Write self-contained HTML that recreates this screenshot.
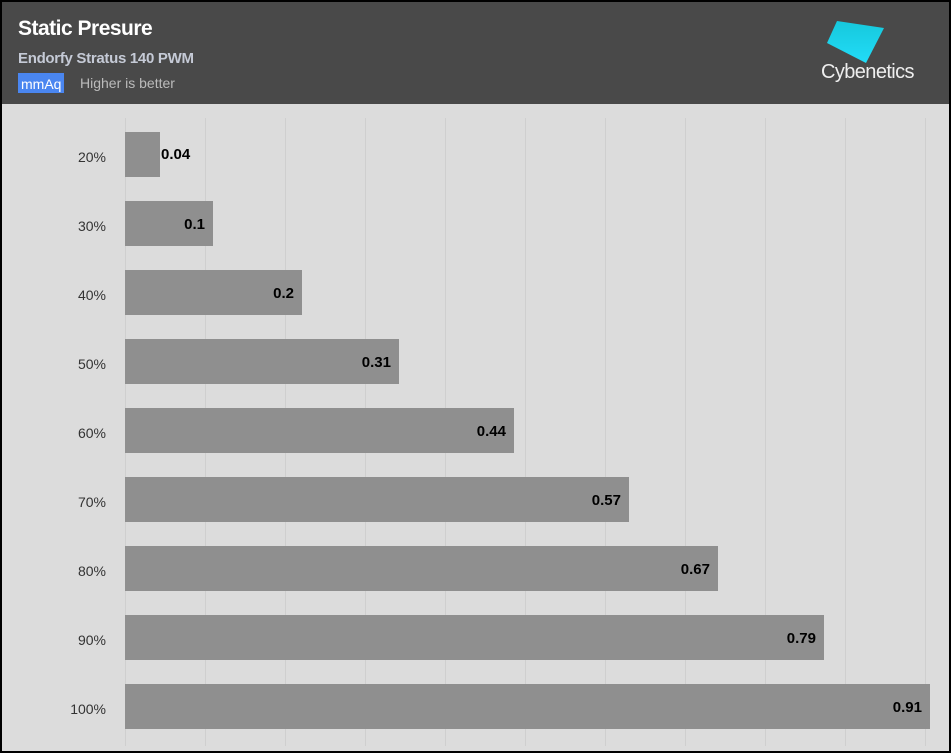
<!DOCTYPE html>
<html><head><style>
body{margin:0;width:951px;height:753px;overflow:hidden;font-family:"Liberation Sans",sans-serif}
.wrap{position:absolute;left:0;top:0;width:947px;height:749px;border:2px solid #000;background:#dcdcdc}
.hdr{position:absolute;left:0;top:0;width:947px;height:102px;background:#494949}
.t{position:absolute;left:16px;top:15px;color:#fff;font-size:21px;font-weight:bold;letter-spacing:-0.5px}
.s{position:absolute;left:16px;top:48px;color:#c5cad6;font-size:15px;font-weight:bold;letter-spacing:-0.3px}
.u{position:absolute;left:16px;top:71px;background:#4a86f0;color:#fff;font-size:14px;padding:1px 3px;height:20px;line-height:20px;box-sizing:border-box}
.h{position:absolute;left:78px;top:73px;color:#bbb;font-size:14px}
.logo{position:absolute;left:819px;top:59px;color:#eee;font-size:20px;letter-spacing:-0.6px}
.g{position:absolute;top:116px;height:628px;width:1px;background:#cfcfcf}
.b{position:absolute;left:123px;height:45px;background:#8f8f8f}
.v{position:absolute;font-size:15px;font-weight:bold;color:#000}
.l{position:absolute;width:80px;text-align:right;left:24px;font-size:14px;color:#333}
</style></head><body><div class="wrap">
<div class="hdr">
<div class="t">Static Presure</div>
<div class="s">Endorfy Stratus 140 PWM</div>
<div class="u">mmAq</div><div class="h">Higher is better</div>
<svg style="position:absolute;left:820px;top:14px" width="70" height="52"><defs><linearGradient id="a" x1="0" y1="0" x2="0" y2="1"><stop offset="0" stop-color="#16c8dc"/><stop offset="1" stop-color="#22dcf8"/></linearGradient></defs><polygon points="15,5 62,12 44,47 5,27" fill="url(#a)"/></svg>
<div class="logo">Cybenetics</div>
</div>
<div id="c"></div>
</div>
<script>
var c=document.getElementById('c'),h='';
for(var i=0;i<11;i++)h+='<div class="g" style="left:'+(123+80*i)+'px"></div>';
var d=[.04,.1,.2,.31,.44,.57,.67,.79,.91],L=['20%','30%','40%','50%','60%','70%','80%','90%','100%'];
for(var i=0;i<9;i++){var y=130+69*i,w=Math.round(d[i]*884.6);
h+='<div class="b" style="top:'+y+'px;width:'+w+'px"></div>';
h+='<div class="l" style="top:'+(y+17)+'px">'+L[i]+'</div>';
var t=String(d[i]);
if(i==0)h+='<div class="v" style="top:'+(y+14)+'px;left:'+(123+w+1)+'px">'+t+'</div>';
else h+='<div class="v" style="top:'+(y+15)+'px;left:'+(123+w-60)+'px;width:52px;text-align:right">'+t+'</div>';}
c.innerHTML=h;
</script></body></html>
